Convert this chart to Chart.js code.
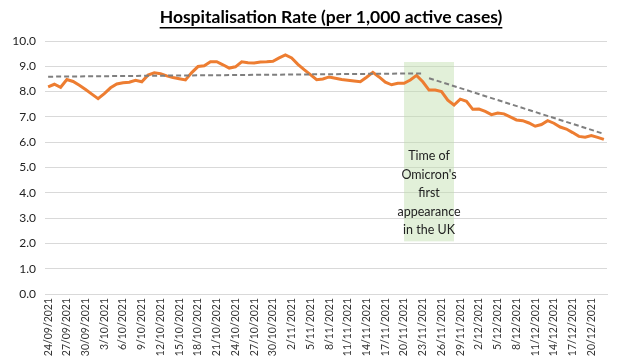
<!DOCTYPE html>
<html>
<head>
<meta charset="utf-8">
<script src="https://cdn.jsdelivr.net/npm/chart.js@4/dist/chart.umd.min.js"></script>
<style>
  html, body { margin: 0; padding: 0; background: #fff; }
  #wrap { width: 626px; height: 361px; }
</style>
</head>
<body>
<div id="wrap"><canvas id="rateChart" width="626" height="361"></canvas></div>
<script>
// daily categories, 24/09/2021 .. 22/12/2021
const startDay = new Date(2021, 8, 24);
const dayCount = 90;
const categories = [];
for (let i = 0; i < dayCount; i++) {
    const d = new Date(startDay.getFullYear(), startDay.getMonth(), startDay.getDate() + i);
    categories.push(d.getDate() + "/" + String(d.getMonth() + 1).padStart(2, "0") + "/" + d.getFullYear());
}

// hospitalisation rate per 1,000 active cases
const rateValues = [
    8.19, 8.29, 8.17, 8.48, 8.40, 8.25, 8.08, 7.90, 7.72, 7.92,
    8.15, 8.30, 8.35, 8.37, 8.45, 8.39, 8.65, 8.74, 8.71, 8.62,
    8.56, 8.51, 8.46, 8.75, 8.99, 9.02, 9.18, 9.18, 9.06, 8.93,
    8.98, 9.18, 9.14, 9.13, 9.17, 9.18, 9.20, 9.33, 9.45, 9.33,
    9.08, 8.87, 8.67, 8.47, 8.50, 8.58, 8.53, 8.48, 8.45, 8.42,
    8.39, 8.57, 8.76, 8.58, 8.37, 8.27, 8.33, 8.33, 8.46, 8.64,
    8.39, 8.06, 8.06, 8.00, 7.66, 7.47, 7.70, 7.62, 7.30, 7.31,
    7.22, 7.09, 7.15, 7.12, 7.00, 6.88, 6.85, 6.76, 6.63, 6.70,
    6.85, 6.75, 6.60, 6.52, 6.38, 6.23, 6.20, 6.26, 6.19, 6.11
];

// dashed trend lines: [start, end] as category index and value
const trendBeforeIdx = [0, 60];
const trendBeforeVal = [8.59, 8.72];
const trendAfterIdx = [61, 89];
const trendAfterVal = [8.53, 6.33];

// shaded period
const omicronFrom = "20/11/2021";
const omicronTo = "28/11/2021";
const omicronRange = [2.08, 9.17];
const omicronText = ["Time of", "Omicron's", "first", "appearance", "in the UK"];

const yTicks = [0, 1, 2, 3, 4, 5, 6, 7, 8, 9, 10];

function trendSeries(idx, val) {
    const arr = new Array(dayCount).fill(null);
    arr[idx[0]] = val[0];
    arr[idx[1]] = val[1];
    return arr;
}

const fontFam = "Lato, 'Open Sans', sans-serif";

const omicronBox = {
    id: "omicronBox",
    beforeDatasetsDraw(chart) {
        const { ctx, scales } = chart;
        const x1 = scales.x.getPixelForValue(categories.indexOf(omicronFrom));
        const x2 = scales.x.getPixelForValue(categories.indexOf(omicronTo));
        const y1 = scales.y.getPixelForValue(omicronRange[1]);
        const y2 = scales.y.getPixelForValue(omicronRange[0]);
        ctx.save();
        ctx.fillStyle = "rgba(190, 222, 170, 0.45)";
        ctx.fillRect(x1, y1, x2 - x1, y2 - y1);
        ctx.fillStyle = "#222";
        ctx.font = "12.5px " + fontFam;
        ctx.textAlign = "center";
        ctx.textBaseline = "middle";
        const cx = (x1 + x2) / 2;
        omicronText.forEach((t, i) => {
            ctx.fillText(t, cx, y2 - 85 + i * 18.5);
        });
        ctx.restore();
    }
};

const titleDraw = {
    id: "titleDraw",
    afterDraw(chart) {
        const { ctx, chartArea } = chart;
        const txt = "Hospitalisation Rate (per 1,000 active cases)";
        ctx.save();
        ctx.font = "bold 17.5px " + fontFam;
        ctx.fillStyle = "#000";
        ctx.textAlign = "center";
        ctx.textBaseline = "middle";
        const cx = (chartArea.left + chartArea.right) / 2 + 5;
        ctx.fillText(txt, cx, 17);
        const w = ctx.measureText(txt).width;
        ctx.fillRect(cx - w / 2, 27, w, 1.5);
        ctx.restore();
    }
};

new Chart(document.getElementById("rateChart"), {
    type: "line",
    data: {
        labels: categories,
        datasets: [
            {
                label: "Hospitalisation rate",
                data: rateValues,
                borderColor: "#ED7D31",
                borderWidth: 3,
                pointRadius: 0,
                tension: 0,
                order: 1
            },
            {
                label: "Trend before",
                data: trendSeries(trendBeforeIdx, trendBeforeVal),
                borderColor: "#7F7F7F",
                borderWidth: 2,
                borderDash: [5, 3],
                pointRadius: 0,
                spanGaps: true,
                order: 0
            },
            {
                label: "Trend after",
                data: trendSeries(trendAfterIdx, trendAfterVal),
                borderColor: "#7F7F7F",
                borderWidth: 2,
                borderDash: [5, 3],
                pointRadius: 0,
                spanGaps: true,
                order: 0
            }
        ]
    },
    options: {
        responsive: false,
        animation: false,
        layout: { padding: { top: 41, right: 19, left: 0, bottom: 0 } },
        plugins: {
            legend: { display: false },
            tooltip: { enabled: false },
            title: { display: false }
        },
        scales: {
            x: {
                offset: true,
                grid: { display: false, drawTicks: false },
                border: { color: "#D9D9D9", width: 1 },
                afterFit(scale) { scale.height = 67; },
                ticks: {
                    autoSkip: false,
                    minRotation: 90,
                    maxRotation: 90,
                    padding: 4,
                    color: "#333",
                    font: { family: fontFam, size: 10.5 },
                    callback(v, i) { return i % 3 === 0 ? categories[i] : ""; }
                }
            },
            y: {
                min: 0,
                max: 10,
                afterFit(scale) { scale.width = 45; },
                afterBuildTicks(scale) { scale.ticks = yTicks.map(v => ({ value: v })); },
                grid: { color: "#D9D9D9", drawTicks: false },
                border: { display: false },
                ticks: {
                    padding: 9,
                    color: "#222",
                    font: { family: fontFam, size: 12 },
                    callback(v) { return Number(v).toFixed(1); }
                }
            }
        }
    },
    plugins: [omicronBox, titleDraw]
});
</script>
</body>
</html>
